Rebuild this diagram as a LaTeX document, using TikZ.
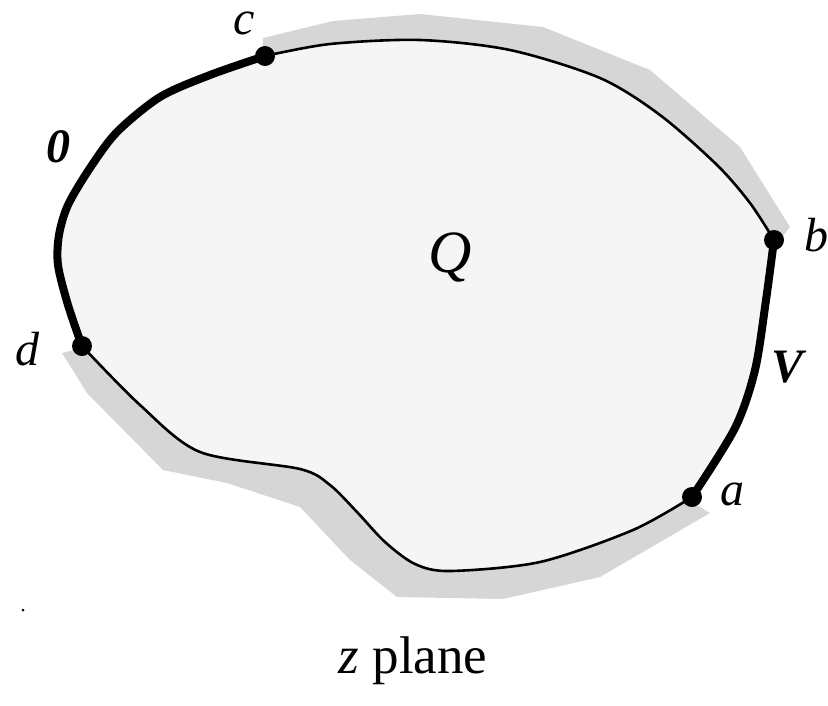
\documentclass[tikz,border=0pt]{standalone}
\usepackage{fontspec}
\setmainfont{Liberation Serif}
\begin{document}
\begin{tikzpicture}[x=1pt,y=-1pt,
  regionfill/.style={fill=black!4},
  band/.style={fill=black!16},
  thinline/.style={draw=black, line width=2.6pt, line join=round},
  thickline/.style={draw=black, line width=8pt, line cap=round, line join=round},
  dotnode/.style={circle, fill=black, inner sep=0pt, minimum size=20pt},
  lbl/.style={font=\fontsize{48}{56}\selectfont\itshape, inner sep=0pt},
  blbl/.style={font=\fontsize{48}{56}\selectfont\bfseries\itshape, inner sep=0pt}]
\useasboundingbox (0,0) rectangle (828,705);
\coordinate (c) at (265,56);
\coordinate (b) at (774,240);
\coordinate (a) at (692,497);
\coordinate (d) at (82,346);
% shaded bands
\fill[band] (262,58) -- (263,38) -- (333,21) -- (420,14) -- (543,27) -- (650,70) -- (740,147) -- (790,227) -- (770,252) -- (700,175) -- (500,75) -- (300,75) -- cycle;
\fill[band] (95,345) -- (62,353) -- (87,393) -- (163,470) -- (227,483) -- (300,507) -- (350,560) -- (397,597) -- (503,599) -- (600,577) -- (710,513) -- (680,495) -- (600,520) -- (450,550) -- (330,460) -- (200,440) -- cycle;
% region
\fill[regionfill] plot[smooth] coordinates {(c) (330,44) (420,40) (510,50) (600,78) (660,115) (717,165) (750,203) (b)}
  -- plot[smooth] coordinates {(b) (766,300) (755,370) (735,428) (a)}
  -- plot[smooth] coordinates {(a) (633,530) (540,562) (450,571) (415,564) (385,542) (357,512) (330,485) (300,469) (200,452) (140,405) (d)}
  -- plot[smooth] coordinates {(d) (68,305) (58,265) (59,235) (68,205) (90,168) (117,132) (160,97) (210,75) (c)} -- cycle;
% boundary
\draw[thinline] plot[smooth] coordinates {(c) (330,44) (420,40) (510,50) (600,78) (660,115) (717,165) (750,203) (b)};
\draw[thinline] plot[smooth] coordinates {(a) (633,530) (540,562) (450,571) (415,564) (385,542) (357,512) (330,485) (300,469) (200,452) (140,405) (d)};
\draw[thickline] plot[smooth] coordinates {(b) (766,300) (755,370) (735,428) (a)};
\draw[thickline] plot[smooth] coordinates {(d) (68,305) (58,265) (59,235) (68,205) (90,168) (117,132) (160,97) (210,75) (c)};
% dots
\node[dotnode] (dc) at (c) {};
\node[dotnode] (db) at (b) {};
\node[dotnode] (da) at (a) {};
\node[dotnode] (dd) at (d) {};
% labels
\node[lbl] (lc) at (244,23) {c};
\node[lbl] (lb) at (816,235) {b};
\node[lbl] (la) at (732,494) {a};
\node[lbl] (ld) at (28,349) {d};
\node[blbl] (l0) at (58,147) {0};
\node[blbl] (lV) at (788,367) {V};
\node[font=\fontsize{60}{70}\selectfont\itshape, inner sep=0pt, anchor=base] (lQ) at (450,272) {Q};
\node[font=\fontsize{53}{62}\selectfont, inner sep=0pt, anchor=base] (lz) at (413,673) {\textit{z} plane};
\fill (23,610) circle (1.5);
\end{tikzpicture}
\end{document}
